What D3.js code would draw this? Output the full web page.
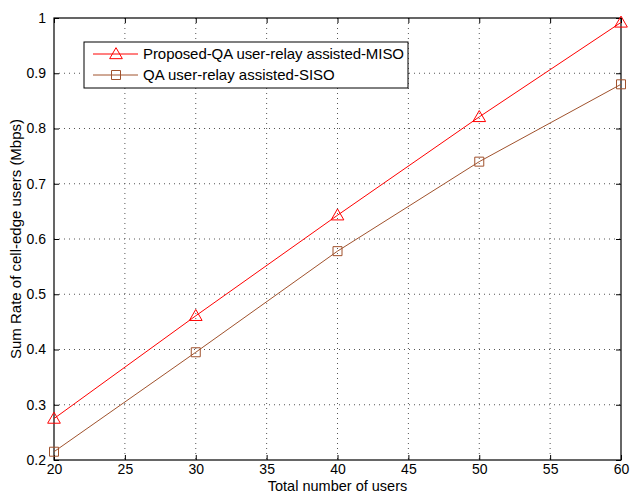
<!DOCTYPE html>
<html>
<head>
<meta charset="utf-8">
<script src="https://cdn.jsdelivr.net/npm/d3@7"></script>
<style>
  body { margin: 0; background: #fff; }
  svg { display: block; font-family: "Liberation Sans", Arial, sans-serif; }
</style>
</head>
<body>
<div id="chart"></div>
<script>
const users = [20, 30, 40, 50, 60];
const misoRate = [0.275, 0.461, 0.643, 0.821, 0.992];
const sisoRate = [0.215, 0.395, 0.578, 0.740, 0.880];
const xTicks = [20, 25, 30, 35, 40, 45, 50, 55, 60];
const yTicks = [0.2, 0.3, 0.4, 0.5, 0.6, 0.7, 0.8, 0.9, 1];
const seriesNames = ["Proposed-QA user-relay assisted-MISO", "QA user-relay assisted-SISO"];

const W = 631, H = 494;
const margin = { top: 18, right: 10, bottom: 34, left: 54 };
const width = W - margin.left - margin.right;
const height = H - margin.top - margin.bottom;

const svg = d3.select("#chart").append("svg")
    .attr("width", W).attr("height", H);
const g = svg.append("g")
    .attr("transform", `translate(${margin.left},${margin.top})`);

const x = d3.scaleLinear().domain([20, 60]).range([0, width]);
const y = d3.scaleLinear().domain([0.2, 1]).range([height, 0]);

// dotted grid
g.append("g").selectAll("line").data(xTicks.slice(1, -1)).join("line")
    .attr("x1", d => x(d)).attr("x2", d => x(d))
    .attr("y1", 0).attr("y2", height)
    .attr("stroke", "#555").attr("stroke-width", 1)
    .attr("stroke-dasharray", "1,4");
g.append("g").selectAll("line").data(yTicks.slice(1, -1)).join("line")
    .attr("y1", d => y(d)).attr("y2", d => y(d))
    .attr("x1", 0).attr("x2", width)
    .attr("stroke", "#555").attr("stroke-width", 1)
    .attr("stroke-dasharray", "1,4");

// axes with inward ticks, matlab-style box
const fmt = d => d3.format("")(+d.toFixed(1));
const styleAxis = sel => {
    sel.select(".domain").remove();
    sel.selectAll(".tick line").attr("stroke", "#000");
    sel.selectAll(".tick text").attr("fill", "#000").style("font-size", "14px");
};
g.append("g").attr("transform", `translate(0,${height})`)
    .call(d3.axisBottom(x).tickValues(xTicks).tickSize(-5).tickPadding(4))
    .call(styleAxis);
g.append("g")
    .call(d3.axisLeft(y).tickValues(yTicks).tickFormat(fmt).tickSize(-5).tickPadding(8))
    .call(styleAxis);
g.append("g")
    .call(d3.axisTop(x).tickValues(xTicks).tickSize(-5).tickFormat(""))
    .call(styleAxis);
g.append("g").attr("transform", `translate(${width},0)`)
    .call(d3.axisRight(y).tickValues(yTicks).tickSize(-5).tickFormat(""))
    .call(styleAxis);

g.append("rect").attr("width", width).attr("height", height)
    .attr("fill", "none").attr("stroke", "#000").attr("stroke-width", 1.2);

// series
const series = [
    { name: seriesNames[0], values: misoRate, color: "#ff0000", marker: "triangle" },
    { name: seriesNames[1], values: sisoRate, color: "#a0522d", marker: "square" }
];

const line = d3.line().x(d => x(d[0])).y(d => y(d[1]));
const markerPath = (type) => type === "triangle"
    ? d3.symbol().type(d3.symbolTriangle).size(70)()
    : "M-4.5,-4.5H4.5V4.5H-4.5Z";

series.forEach(s => {
    const pts = users.map((u, i) => [u, s.values[i]]);
    g.append("path").datum(pts)
        .attr("d", line)
        .attr("fill", "none").attr("stroke", s.color).attr("stroke-width", 1);
    g.append("g").selectAll("path").data(pts).join("path")
        .attr("transform", d => `translate(${x(d[0])},${y(d[1]) + (s.marker === "triangle" ? 1 : 0)})`)
        .attr("d", markerPath(s.marker))
        .attr("fill", "none").attr("stroke", s.color).attr("stroke-width", 1);
});

// legend
const lg = svg.append("g").attr("transform", "translate(84,42)");
lg.append("rect").attr("width", 324).attr("height", 46)
    .attr("fill", "#fff").attr("stroke", "#000").attr("stroke-width", 1);
series.forEach((s, i) => {
    const ly = 12 + i * 21;
    lg.append("line").attr("x1", 9).attr("x2", 54).attr("y1", ly).attr("y2", ly)
        .attr("stroke", s.color).attr("stroke-width", 1);
    lg.append("path").attr("transform", `translate(32,${ly + (s.marker === "triangle" ? 1 : 0)})`)
        .attr("d", markerPath(s.marker))
        .attr("fill", "none").attr("stroke", s.color).attr("stroke-width", 1);
    lg.append("text").attr("x", 59).attr("y", ly + 5)
        .style("font-size", "15px").attr("lengthAdjust", "spacing")
        .attr("textLength", i === 0 ? 261 : null)
        .text(s.name);
});

// axis labels
svg.append("text").attr("x", margin.left + width / 2).attr("y", 490.5)
    .attr("text-anchor", "middle").style("font-size", "14.5px")
    .text("Total number of users");
svg.append("text")
    .attr("transform", `translate(21,${margin.top + height / 2}) rotate(-90)`)
    .attr("text-anchor", "middle").style("font-size", "15px")
    .text("Sum Rate of cell-edge users (Mbps)");
</script>
</body>
</html>
